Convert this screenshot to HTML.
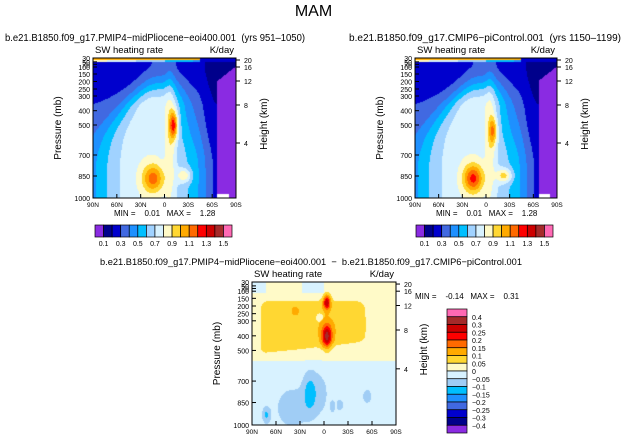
<!DOCTYPE html>
<html><head><meta charset="utf-8"><style>
body{margin:0;background:#fff;font-family:"Liberation Sans",sans-serif;}
#root{position:relative;width:627px;height:442px;overflow:hidden;background:#fff;}
.t{position:absolute;white-space:nowrap;color:#000;line-height:1;}
canvas{position:absolute;}
text{white-space:pre;}
</style></head><body>
<div id="root">
<div class="t" style="left:0;width:627px;text-align:center;top:4px;font-size:16px;">MAM</div>
<svg id="svg" width="627" height="442" style="position:absolute;left:0;top:0"></svg>
</div>
<script>
// ---- data ----
const latTicks=["90N","60N","30N","0","30S","60S","90S"];
const presTicks=[30,100,150,200,250,300,400,500,700,850,1000];
const presStacked=[50,70];
const heightTicks=[20,16,12,8,4];
const absLevels=[0.1,0.2,0.3,0.4,0.5,0.6,0.7,0.8,0.9,1.0,1.1,1.2,1.3,1.4,1.5];
const absLabels=["0.1","0.3","0.5","0.7","0.9","1.1","1.3","1.5"];
const absColors=["#8a2be2","#00008b","#0000cd","#4169e1","#1e90ff","#00bfff","#a0d2ff","#d8f2ff","#fffac8","#ffd732","#ffaa00","#ff6a00","#ff0000","#cd0000","#a52a2a","#ff69b4"];
const diffLevels=[-0.4,-0.3,-0.25,-0.2,-0.15,-0.1,-0.05,0,0.05,0.1,0.15,0.2,0.25,0.3,0.4];
const diffLabels=["0.4","0.3","0.25","0.2","0.15","0.1","0.05","0","\u22120.05","\u22120.1","\u22120.15","\u22120.2","\u22120.25","\u22120.3","\u22120.4"];
const diffColors=["#8a2be2","#00008b","#0000cd","#4169e1","#1e90ff","#00bfff","#a0cdf5","#d8f2ff","#fffac8","#ffd732","#ffaa00","#ff6a00","#ff0000","#cd0000","#a52a2a","#ff69b4"];
// blobs: u (0=90N..1=90S), w (0=top..1=1000mb), su, sw, amplitude
const blobsMid={u:[0.42,0.565,0.54,0.64],w:[0.86,0.48,0.55,0.84],su:[0.075,0.03,0.035,0.05],sw:[0.1,0.1,0.5,0.05],amp:[0.38,0.5,0.15,0.25]};
const blobsCtl={u:[0.41,0.55,0.53,0.63],w:[0.86,0.52,0.55,0.84],su:[0.07,0.03,0.035,0.055],sw:[0.1,0.1,0.5,0.05],amp:[0.46,0.35,0.13,0.3]};
const blobsDiff={u:[0.52,0.52,0.3,0.6,0.3,0.4,0.1,0.61,0.56,0.8,0.28,0.45],w:[0.14,0.38,0.2,0.3,0.32,0.78,0.93,0.86,0.87,0.8,0.88,0.78],su:[0.025,0.035,0.025,0.2,0.2,0.04,0.025,0.02,0.015,0.025,0.12,0.08],sw:[0.05,0.08,0.03,0.12,0.12,0.12,0.05,0.035,0.035,0.04,0.15,0.15],amp:[0.24,0.24,0.06,0.02,0.02,-0.08,-0.08,-0.06,-0.06,-0.07,-0.04,-0.04]};
const minMax=[["0.01","1.28"],["0.01","1.28"],["-0.14","0.31"]];

const svg=document.getElementById('svg');const NS="http://www.w3.org/2000/svg";
function el(tag,attrs,parent){const e=document.createElementNS(NS,tag);for(const k in attrs)e.setAttribute(k,attrs[k]);(parent||svg).appendChild(e);return e;}
function txt(x,y,s,size,anchor,name,rot,len){const e=el('text',{x:x,y:y,'font-size':size,'text-anchor':anchor||'start','font-family':'Liberation Sans, sans-serif'});if(rot)e.setAttribute('transform','rotate(-90 '+x+' '+y+')');if(len){e.setAttribute('textLength',len);e.setAttribute('lengthAdjust','spacingAndGlyphs');}e.textContent=s;return e;}
const pKey=[30,100,150,200,250,300,400,500,700,850,1000],fKey=[0,9,16,23.5,31,38,52.7,67,97,118,140];
function yFrac(p){for(let i=0;i<pKey.length-1;i++){if(p<=pKey[i+1]){const a=Math.log(pKey[i]),b=Math.log(pKey[i+1]);return (fKey[i]+(fKey[i+1]-fKey[i])*(Math.log(p)-a)/(b-a))/140;}}return 1;}
const hKey=[20,16,12,8,4],hF=[2,9,23,47,85];
function blobSum(B,u,w){let s=0;for(let i=0;i<B.u.length;i++){const du=(u-B.u[i])/B.su[i],dw=(w-B.w[i])/B.sw[i];s+=B.amp[i]*Math.exp(-(du*du+dw*dw));}return s;}
function ss(a,b,x){const t=Math.min(1,Math.max(0,(x-a)/(b-a)));return t*t*(3-2*t);}
function absField(B){return (u,w)=>{
  if(w<0.012)return u<0.75?1.0:0.25;
  if(w<0.03)return u<0.75?0.85-u*0.5:0.22;
  if(u>0.87&&w>0.1+(0.95-u)*0.8)return (w>0.97&&u<0.95)?-9:0.05;
  const wid=0.14+0.24*ss(0.05,0.8,w), c=0.48-0.1*ss(0.1,0.6,w);
  const G=Math.exp(-Math.pow(Math.abs(u-c)/wid,2.5)), Bw=ss(0.04,0.36,w);
  let v=0.24+0.06*Bw+0.48*G*(0.15+0.85*Bw);
  if(u>0.72)v-=0.1*ss(0.72,0.86,u);
  return v+blobSum(B,u,w);};}
function diffField(u,w){let v=0.02;
  const lower=0.55-0.12*u;
  v+=0.05*ss(0.08,0.18,w)*(1-ss(lower-0.08,lower,w))*ss(0.02,0.1,u)*(1-ss(0.72,0.85,u));
  v-=0.05*ss(0.5,0.62,w);
  if(w<0.08&&(u<0.1||(u>0.35&&u<0.5)))v=-0.02;
  const dh=(u-0.47)/0.025,dw=(w-0.25)/0.03; if(dh*dh+dw*dw<1)v=0.02;
  return v+blobSum(blobsDiff,u,w);}
function colorFor(v,levels,colors){if(v===-9)return "#ffffff";let i=0;while(i<levels.length&&v>=levels[i])i++;return colors[i];}
function drawField(x0,y0,W,H,f,levels,colors,name){
  const c=document.createElement('canvas');c.width=W;c.height=H;c.style.left=x0+'px';c.style.top=y0+'px';
  
  const ctx=c.getContext('2d');
  for(let j=0;j<H;j++)for(let i=0;i<W;i++){ctx.fillStyle=colorFor(f((i+0.5)/W,(j+0.5)/H),levels,colors);ctx.fillRect(i,j,1,1);}
  document.getElementById('root').insertBefore(c,svg);
}
function panel(x0,y0,W,H,f,levels,colors,title,tx,tlen,mm,mmPos,name){
  drawField(x0,y0,W,H,f,levels,colors,name+'-contours');
  el('rect',{x:x0,y:y0,width:W,height:H,fill:'none',stroke:'#000','stroke-width':1});
  if(title)txt(tx,y0-17,title,10,'middle',name+'-title',false,tlen);
  txt(x0+2,y0-5,"SW heating rate",9.5,'start',name+'-variable');
  txt(x0+W-2,y0-5,"K/day",9.5,'end',name+'-units');
  latTicks.forEach((l,i)=>{const x=x0+W*i/6;el('line',{x1:x,x2:x,y1:y0+H,y2:y0+H-4,stroke:'#000'});txt(x,y0+H+9,l,6.5,'middle','x-tick-'+l);});
  presTicks.concat(presStacked).forEach(p=>{const y=y0+H*yFrac(p);el('line',{x1:x0,x2:x0+4,y1:y,y2:y,stroke:'#000'});txt(x0-3,y+3,String(p),7,'end','y-tick-'+p);});
  hKey.forEach((h,i)=>{const y=y0+hF[i]*H/140;el('line',{x1:x0+W,x2:x0+W+4,y1:y,y2:y,stroke:'#000'});txt(x0+W+8,y+3,String(h),7,'start','height-tick-'+h);});
  txt(x0-32,y0+H/2,"Pressure (mb)",10,'middle',name+'-y-axis-title',true);
  txt(x0+W+31,y0+H/2-4,"Height (km)",10,'middle',name+'-height-axis-title',true);
  txt(mmPos[0],mmPos[1],"MIN =    "+mm[0]+"   MAX =    "+mm[1],8,'start',name+'-min-max');
}
panel(93,58,143,140,absField(blobsMid),absLevels,absColors,"b.e21.B1850.f09_g17.PMIP4\u2212midPliocene\u2212eoi400.001  (yrs 951\u20131050)",155,300,minMax[0],[114,216],'midpliocene-panel');
panel(415,58,142,140,absField(blobsCtl),absLevels,absColors,"b.e21.B1850.f09_g17.CMIP6\u2212piControl.001  (yrs 1150\u20131199)",485,272,minMax[1],[436,216],'picontrol-panel');
panel(252,282,144,143,diffField,diffLevels,diffColors,null,0,0,minMax[2],[415,299],'difference-panel');
txt(311,265,"b.e21.B1850.f09_g17.PMIP4\u2212midPliocene\u2212eoi400.001  \u2212  b.e21.B1850.f09_g17.CMIP6\u2212piControl.001",9.5,'middle','difference-title',false,422);
function hbar(x0,y0,W,H,name){const n=absColors.length,bw=W/n;absColors.forEach((c,i)=>{const r=el('rect',{x:x0+i*bw,y:y0,width:bw,height:H,fill:c,stroke:'#000','stroke-width':0.7});});
  absLabels.forEach((l,i)=>txt(x0+bw*(1+2*i),y0+H+9,l,7,'middle',name+'-label-'+l));}
hbar(95,225,137,12,'colorbar-left');hbar(416,225,137,12,'colorbar-right');
(function(){const x0=447,y0=309,W=20,H=124,n=diffColors.length,bh=H/n;
  for(let i=0;i<n;i++){const r=el('rect',{x:x0,y:y0+i*bh,width:W,height:bh,fill:diffColors[n-1-i],stroke:'#000','stroke-width':0.7});}
  diffLabels.forEach((l,i)=>txt(x0+W+5,y0+bh*(i+1)+3,l,7,'start','colorbar-diff-label-'+i));})();
</script>
</body></html>
